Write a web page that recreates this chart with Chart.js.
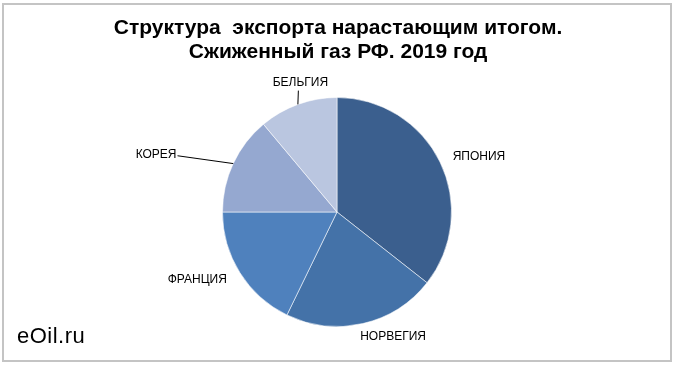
<!DOCTYPE html>
<html>
<head>
<meta charset="utf-8">
<script src="https://cdn.jsdelivr.net/npm/chart.js@4"></script>
<style>
  html, body { margin: 0; padding: 0; background: #fff; }
  #wrap { position: relative; width: 680px; height: 367px; }
  #frame { position: absolute; left: 2px; top: 3px; width: 666px; height: 355px; border: 2px solid #c4c4c4; box-sizing: content-box; pointer-events: none; }
  canvas { position: absolute; left: 0; top: 0; }
</style>
</head>
<body>
<div id="wrap">
  <canvas id="pie" width="680" height="367"></canvas>
  <div id="frame"></div>
</div>
<script>
// export structure, LNG Russia 2019 (share, %)
const countries = ['ЯПОНИЯ', 'НОРВЕГИЯ', 'ФРАНЦИЯ', 'КОРЕЯ', 'БЕЛЬГИЯ'];
const shares = [35.6, 21.6, 17.8, 13.9, 11.1];
const sliceColors = ['#3b5f8e', '#4472a8', '#4f81bd', '#95a8d0', '#bac6e0'];
const titleLines = ['Структура  экспорта нарастающим итогом.', 'Сжиженный газ РФ. 2019 год'];

// label placement relative to pie centre, in radii; leader = draw a line to the arc
const labelPos = [
  { x: 1.24, y: -0.48, leader: false },
  { x: 0.49, y: 1.09, leader: false },
  { x: -1.22, y: 0.59, leader: false },
  { x: -1.58, y: -0.50, leader: true },
  { x: -0.32, y: -1.13, leader: true }
];

const FONT = '"Liberation Sans", Arial, sans-serif';

const pieLabels = {
  id: 'pieLabels',
  afterDatasetsDraw(chart) {
    const ctx = chart.ctx;
    const arcs = chart.getDatasetMeta(0).data;
    ctx.save();
    ctx.font = '12px ' + FONT;
    ctx.fillStyle = '#000';
    ctx.textAlign = 'center';
    ctx.textBaseline = 'middle';
    arcs.forEach((arc, i) => {
      const p = labelPos[i];
      const r = arc.outerRadius;
      const lx = arc.x + p.x * r;
      const ly = arc.y + p.y * r;
      const text = countries[i];
      ctx.fillText(text, lx, ly);
      if (p.leader) {
        const mid = (arc.startAngle + arc.endAngle) / 2;
        const ex = arc.x + Math.cos(mid) * r;
        const ey = arc.y + Math.sin(mid) * r;
        const w = ctx.measureText(text).width;
        let sx, sy;
        if (Math.abs(p.x) > Math.abs(p.y)) { sx = lx + w / 2 + 1; sy = ly + 1; }
        else { sx = lx - 2; sy = ly + 8; }
        ctx.strokeStyle = '#000';
        ctx.lineWidth = 1;
        ctx.beginPath();
        ctx.moveTo(sx, sy);
        ctx.lineTo(ex, ey);
        ctx.stroke();
      }
    });

    // title
    ctx.font = 'bold 21px ' + FONT;
    ctx.textAlign = 'center';
    titleLines.forEach((t, i) => ctx.fillText(t, 338, 28 + i * 24));

    // source mark
    ctx.font = '22px ' + FONT;
    ctx.letterSpacing = '0.5px';
    ctx.textAlign = 'left';
    ctx.fillText('eOil.ru', 17, 337);
    ctx.restore();
  }
};

new Chart(document.getElementById('pie'), {
  type: 'pie',
  data: {
    labels: countries,
    datasets: [{
      data: shares,
      backgroundColor: sliceColors,
      borderColor: 'rgba(255,255,255,0.55)',
      borderWidth: 1
    }]
  },
  options: {
    responsive: false,
    animation: false,
    layout: { padding: { left: 200, right: 206, top: 97, bottom: 40 } },
    plugins: {
      legend: { display: false },
      tooltip: { enabled: false },
      title: { display: false }
    }
  },
  plugins: [pieLabels]
});
</script>
</body>
</html>
